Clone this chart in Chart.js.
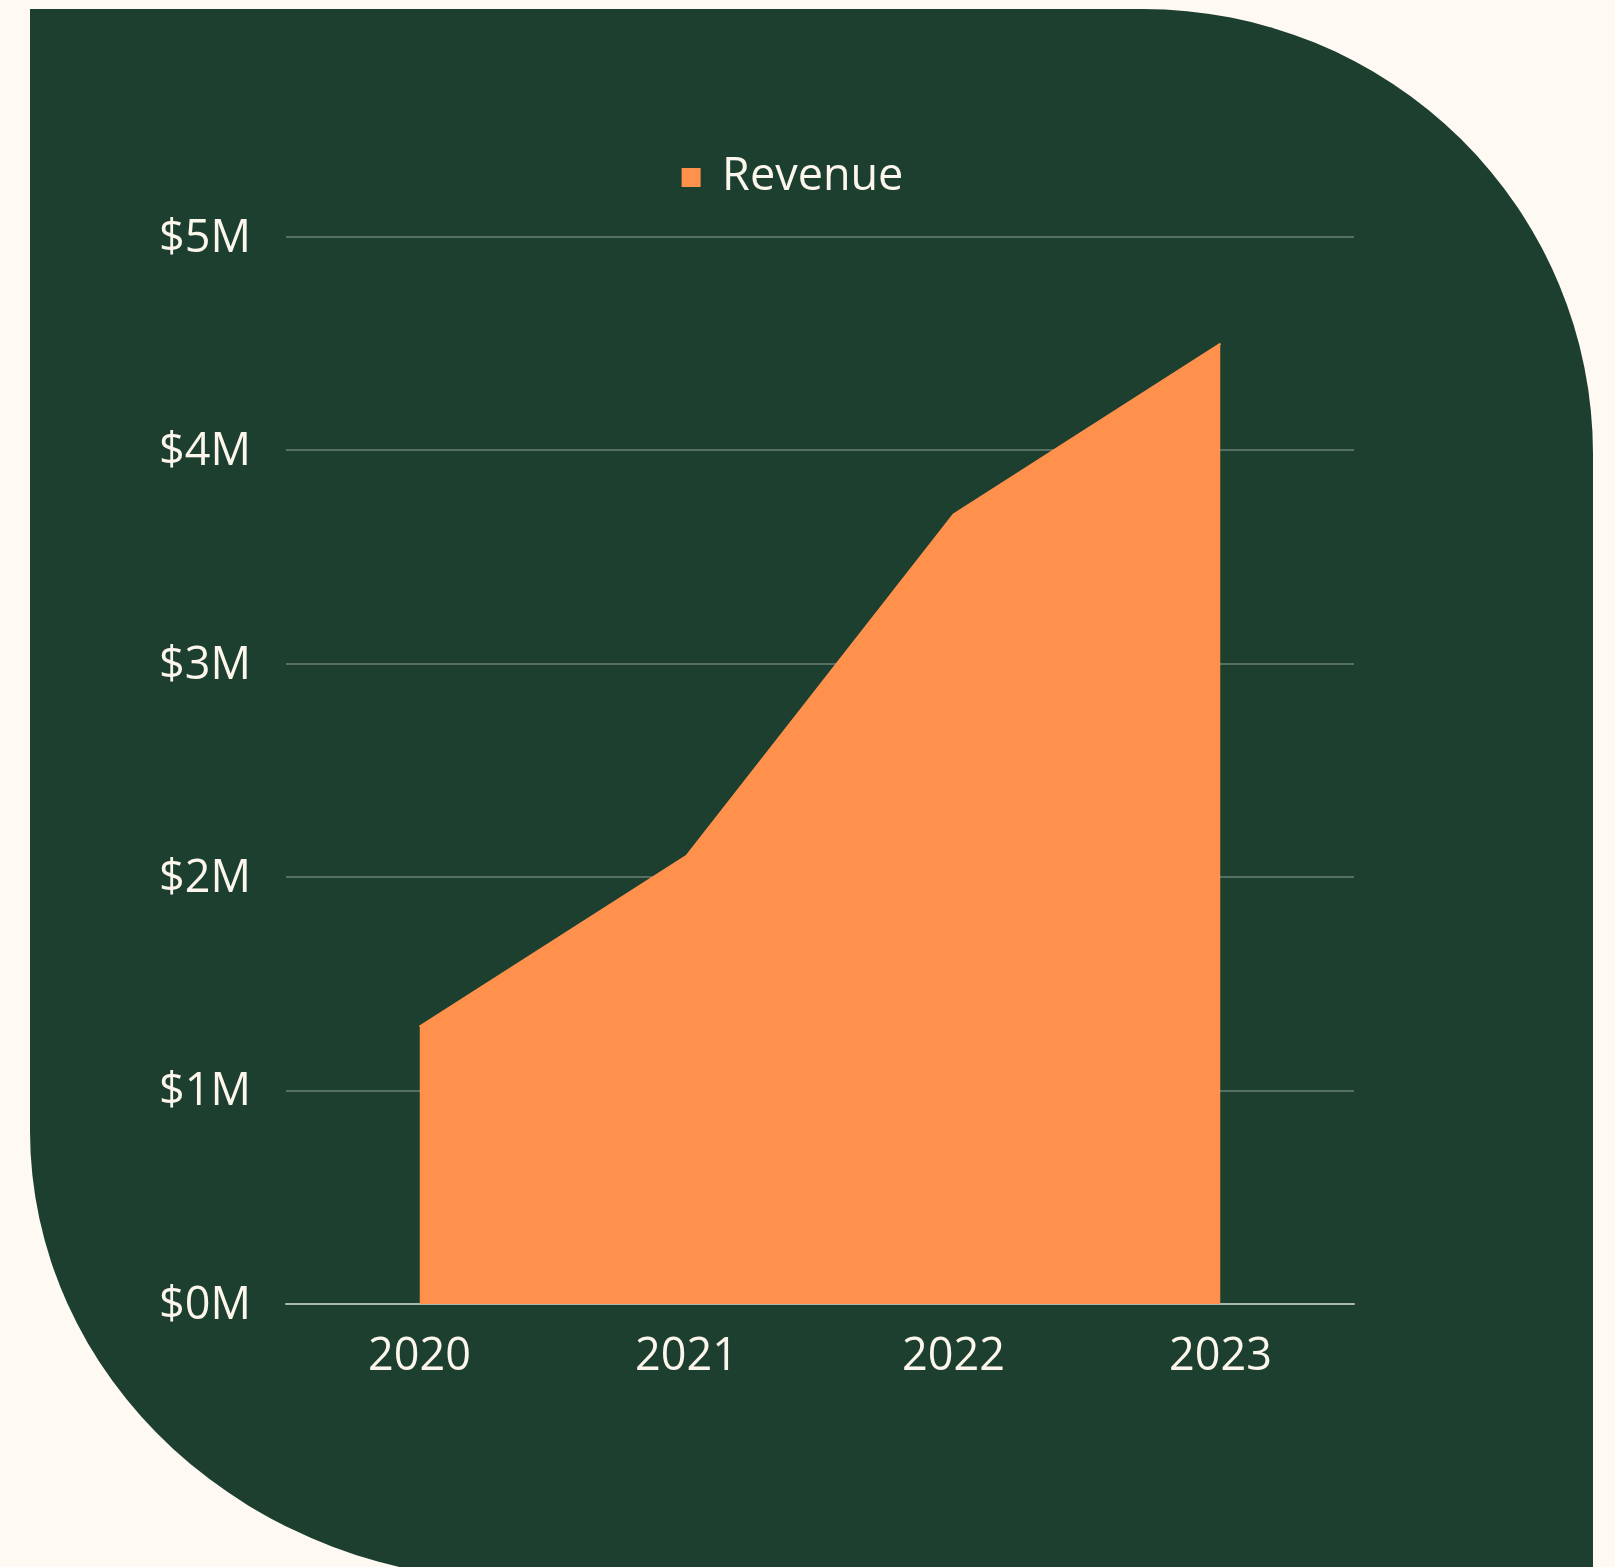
<!DOCTYPE html>
<html>
<head>
<meta charset="utf-8">
<script src="https://cdn.jsdelivr.net/npm/chart.js@4.4.0/dist/chart.umd.min.js"></script>
<style>
    html, body {
        margin: 0;
        padding: 0;
        width: 1615px;
        height: 1567px;
        overflow: hidden;
        background: #fef9f3;
    }
    .panel {
        position: absolute;
        left: 30px;
        top: 9px;
        width: 1563px;
        height: 1572px;
        background: #1c3f2f;
        border-radius: 0 450px 0 490px / 0 445px 0 450px;
    }
    #revenueChart {
        position: absolute;
        left: 0;
        top: 0;
    }
</style>
</head>
<body>
<div class="panel"></div>
<canvas id="revenueChart" width="1615" height="1567"></canvas>
<script>
const years = ['2020', '2021', '2022', '2023'];
const revenue = [1.3, 2.1, 3.7, 4.5];   // $ millions

const textColor = '#fdf6ec';
const orange = '#ff914d';

Chart.defaults.font.family = '"Open Sans", sans-serif';
Chart.defaults.font.size = 45;
Chart.defaults.color = textColor;

// legend sits a bit further from the plot and a bit right of the page centre
const legendSpacing = {
    id: 'legendSpacing',
    beforeLayout(chart) {
        const legend = chart.legend;
        if (!legend || legend._spaced) return;
        const fit = legend.fit;
        legend.fit = function () {
            fit.call(this);
            this.height = 92;
        };
        legend._spaced = true;
    },
    afterLayout(chart) {
        chart.legend.left += 46;
        chart.legend.right += 46;
    }
};

const ctx = document.getElementById('revenueChart').getContext('2d');
new Chart(ctx, {
    type: 'line',
    data: {
        labels: years,
        datasets: [{
            label: 'Revenue',
            data: revenue,
            backgroundColor: orange,
            borderColor: orange,
            borderWidth: 2,
            fill: 'origin',
            tension: 0,
            pointRadius: 0
        }]
    },
    options: {
        responsive: false,
        animation: false,
        devicePixelRatio: 1,
        layout: {
            padding: { top: 145, left: 140, right: 261, bottom: 163 }
        },
        plugins: {
            legend: {
                position: 'top',
                labels: {
                    boxWidth: 17,
                    boxHeight: 17,
                    color: textColor
                }
            },
            tooltip: { enabled: false }
        },
        scales: {
            x: {
                offset: true,
                afterFit: (scale) => { scale.height = 100; },
                grid: { display: false, drawTicks: false },
                border: { display: true, color: 'rgba(255,255,255,0.5)', width: 2 },
                ticks: { padding: 26, color: textColor, maxRotation: 0 }
            },
            y: {
                min: 0,
                max: 5,
                afterFit: (scale) => { scale.width = 146; },
                grid: { color: 'rgba(255,255,255,0.25)', lineWidth: 2, drawTicks: false },
                border: { display: false },
                ticks: {
                    stepSize: 1,
                    padding: 35,
                    labelOffset: 2,
                    color: textColor,
                    callback: (v) => '$' + v + 'M'
                }
            }
        }
    },
    plugins: [legendSpacing]
});
</script>
</body>
</html>
